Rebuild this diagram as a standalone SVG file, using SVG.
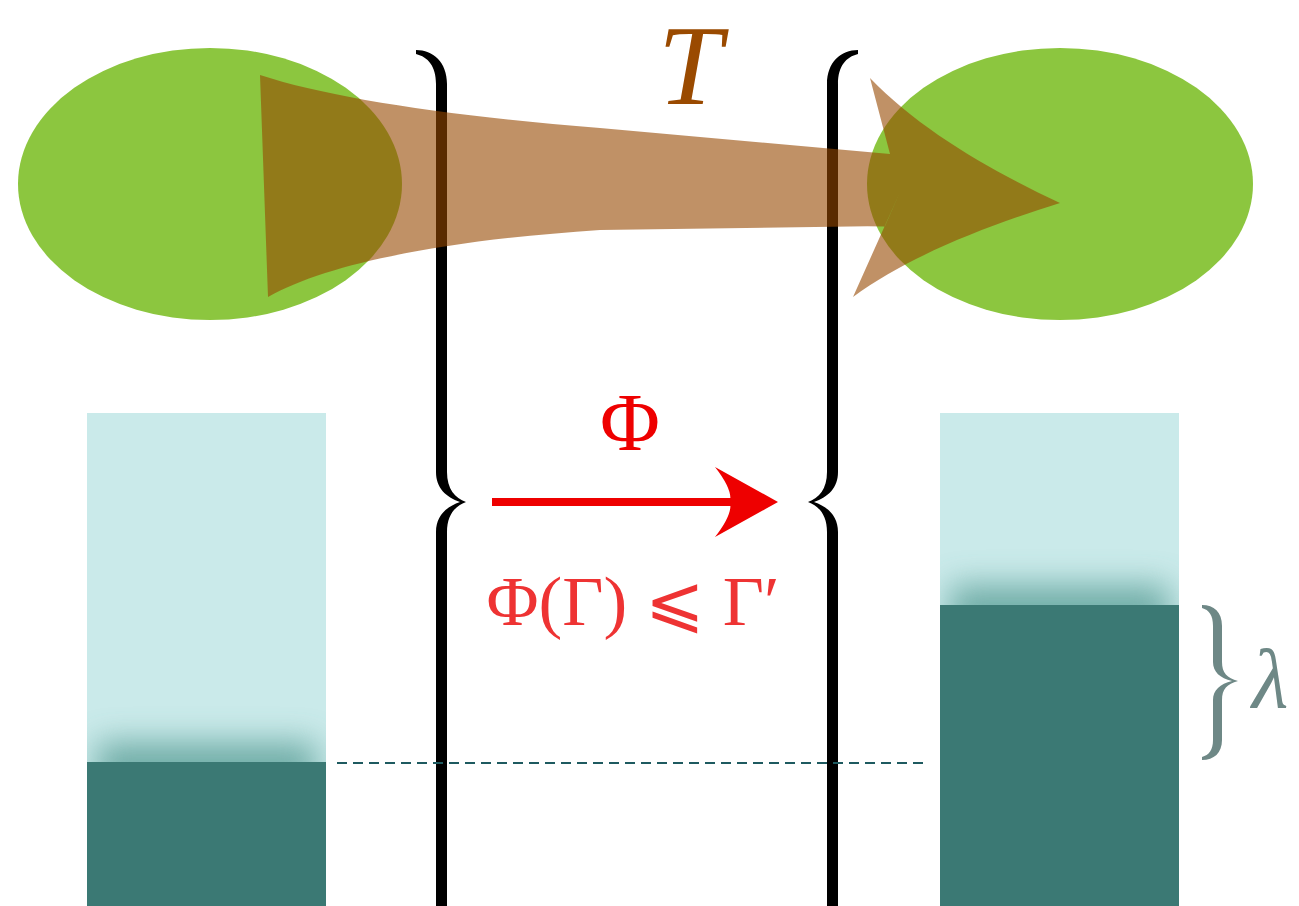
<svg xmlns="http://www.w3.org/2000/svg" width="1299" height="906" viewBox="0 0 1299 906">
<defs>
<style>
.blob{fill:#8CC63F}
.brace{fill:#000}
.light{fill:#CAEAEA}
.dark{fill:#3B7974}
.red{fill:#EE0000}
.serif{font-family:"Liberation Serif","DejaVu Serif",serif}
</style>
<filter id="blur" x="-30%" y="-100%" width="160%" height="300%"><feGaussianBlur stdDeviation="16 16"/></filter>
<clipPath id="cl"><rect x="87" y="413" width="239" height="493"/></clipPath>
<clipPath id="cr"><rect x="940" y="413" width="239" height="493"/></clipPath>
</defs>
<rect width="1299" height="906" fill="#fff"/>
<g id="left-bar">
<rect class="light" x="87" y="413" width="239" height="493"/>
<g clip-path="url(#cl)"><rect x="97" y="742" width="219" height="50" fill="#4E958D" opacity="0.72" filter="url(#blur)"/></g>
<rect class="dark" x="87" y="762" width="239" height="144"/>
</g>
<g id="right-bar">
<rect class="light" x="940" y="413" width="239" height="493"/>
<g clip-path="url(#cr)"><rect x="950" y="585" width="219" height="50" fill="#4E958D" opacity="0.72" filter="url(#blur)"/></g>
<rect class="dark" x="940" y="605" width="239" height="301"/>
</g>
<g id="left-blob"><ellipse class="blob" cx="210" cy="184" rx="192" ry="136"/></g>
<g id="right-blob"><ellipse class="blob" cx="1060" cy="184" rx="193" ry="136"/></g>
<g id="left-brace"><path class="brace" d="M416,50 C433,50 447,62 447,84 L447,472 C447,489 455,498 466,502 C455,506 447,515 447,532 L447,906 L436,906 L436,532 C436,516 446,507 460,502 C446,497 436,488 436,472 L436,84 C436,66 428,57 416,54 Z"/></g>
<g id="right-brace" transform="matrix(-1 0 0 1 1274 0)"><path class="brace" d="M416,50 C433,50 447,62 447,84 L447,472 C447,489 455,498 466,502 C455,506 447,515 447,532 L447,906 L436,906 L436,532 C436,516 446,507 460,502 C446,497 436,488 436,472 L436,84 C436,66 428,57 416,54 Z"/></g>
<g id="connectors">
<path id="T-arrow" fill="#964800" fill-opacity="0.6" fill-rule="nonzero" d="M260,75 C330,98 450,116 600,128 L890,154 L900,192 L885,226 L600,230 C450,240 330,262 268,297 Z M870,78 L900,192 L853,297 C910,255 990,225 1060,203 C990,170 920,130 870,78 Z"/>
<g id="phi-arrow">
<line x1="492" y1="502" x2="735" y2="502" stroke="#EE0000" stroke-width="8"/>
<path class="red" d="M778,502 L715,467 Q733,490 730,502 Q733,514 715,537 Z"/>
</g>
<line id="level-line" x1="337" y1="763" x2="928" y2="763" stroke="#1E5A60" stroke-width="2" stroke-dasharray="10,6"/>
</g>
<g id="T-label"><text class="serif" x="690" y="104" font-size="115" font-style="italic" fill="#9A4A00" text-anchor="middle">T</text></g>
<g id="phi-label"><text class="serif" x="630" y="450" font-size="82" fill="#EE0000" text-anchor="middle">Φ</text></g>
<g id="inequality"><text class="serif" x="633" y="625" font-size="70" fill="#EE3333" text-anchor="middle" textLength="293" lengthAdjust="spacingAndGlyphs">Φ(Γ) ⩽ Γ′</text></g>
<g id="lambda-brace"><path fill="#6E8886" d="M1202,605 C1214,605 1222,612 1222,626 L1222,662 C1222,673 1227,678 1238,681 C1227,684 1222,689 1222,700 L1222,740 C1222,753 1214,760 1202,760 L1202,757 C1209,755 1213,750 1213,740 L1213,700 C1213,690 1220,684 1232,681 C1220,678 1213,672 1213,662 L1213,626 C1213,615 1209,610 1202,608 Z"/>
<text class="serif" x="1252" y="707" font-size="84" font-style="italic" fill="#6E8886">λ</text></g>
</svg>
